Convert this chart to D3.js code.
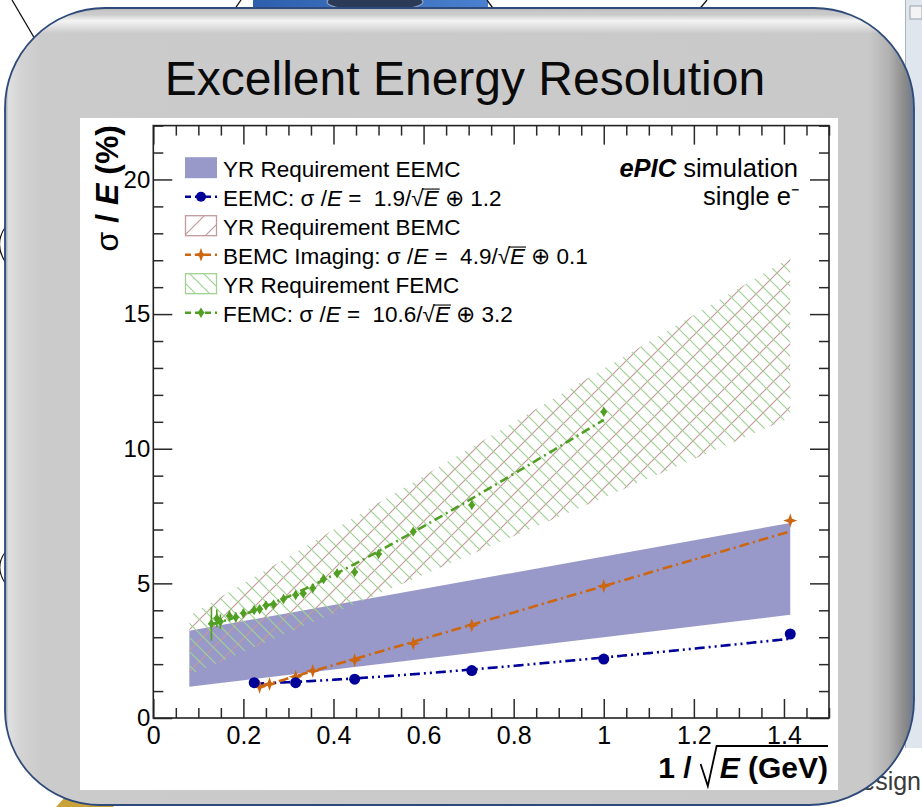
<!DOCTYPE html>
<html>
<head>
<meta charset="utf-8">
<script src="https://cdn.jsdelivr.net/npm/d3@7"></script>
<style>
  html, body { margin: 0; padding: 0; background: #fff; }
  svg { display: block; }
  text { font-family: "Liberation Sans", Arial, Helvetica, sans-serif; white-space: pre; }
</style>
</head>
<body>
<svg id="slide" width="922" height="807"></svg>
<script>
// ---------------- data ----------------
// EEMC (electron endcap) resolution points, x = 1/sqrt(E)
const eemcX = [0.224, 0.316, 0.447, 0.707, 1.000, 1.414];
const eemcY = [1.31, 1.31, 1.44, 1.76, 2.19, 3.12];
// BEMC imaging calorimeter
const bemcX = [0.236, 0.258, 0.316, 0.354, 0.447, 0.577, 0.707, 1.000, 1.414];
const bemcY = [1.16, 1.26, 1.53, 1.75, 2.15, 2.77, 3.44, 4.90, 7.33];
// FEMC (forward endcap)
const femcX = [0.129, 0.141, 0.149, 0.169, 0.183, 0.200, 0.224, 0.236, 0.250, 0.267, 0.289,
               0.316, 0.333, 0.354, 0.378, 0.408, 0.447, 0.500, 0.577, 0.707, 1.000];
const femcY = [3.50, 3.70, 3.58, 3.79, 3.74, 3.89, 4.01, 4.04, 4.18, 4.22, 4.42,
               4.57, 4.63, 4.82, 5.16, 5.37, 5.42, 6.09, 6.92, 7.91, 11.37];
const femcErr = [0.63, 0.33, 0.27, 0.20, 0.18, 0.15, 0.14, 0.14, 0.13, 0.13, 0.12,
                 0.12, 0.12, 0.12, 0.12, 0.12, 0.12, 0.12, 0.12, 0.12, 0.12];

// fit results quoted in the legend: sigma/E = a/sqrt(E) (+) b
const fitNames = ["EEMC", "BEMC", "FEMC"];
const fitStochastic = [1.9, 4.9, 10.6];
const fitConstant = [1.2, 0.1, 3.2];
const fitFrom = [0.224, 0.236, 0.129];
const fitTo = [1.414, 1.414, 1.000];

// Yellow Report requirement bands, edges at both ends of the 1/sqrt(E) range
const bandX = [0.08, 1.414];
const eemcReqLow = [1.16, 3.83];
const eemcReqHigh = [3.24, 7.24];
const bemcReqLow = [1.60, 11.15];
const bemcReqHigh = [3.80, 17.10];
const femcReqLow = [1.60, 11.15];
const femcReqHigh = [3.80, 17.10];

// axis ticks
const xTicks = [0, 0.2, 0.4, 0.6, 0.8, 1.0, 1.2, 1.4];
const xTickLabels = ["0", "0.2", "0.4", "0.6", "0.8", "1", "1.2", "1.4"];
const yTicks = [0, 5, 10, 15, 20];
const yTickLabels = ["0", "5", "10", "15", "20"];

// ---------------- styles ----------------
const C_EEMC = "#000099", C_BEMC = "#cc6611", C_FEMC = "#519f22";
const C_EEMC_BAND = "#9999c9", C_BEMC_HATCH = "#c29a9a", C_FEMC_HATCH = "#a0d292";
const FONT = '"Liberation Sans", Arial, Helvetica, sans-serif';

const svg = d3.select("#slide");
const defs = svg.append("defs");

// ---------------- slide background ----------------
svg.append("rect").attr("width", 922).attr("height", 807).attr("fill", "#fff");

// neighbouring window at the right edge
svg.append("rect").attr("x", 905).attr("y", 0).attr("width", 17).attr("height", 748).attr("fill", "#dfe6ee");
svg.append("line").attr("x1", 905.5).attr("x2", 905.5).attr("y1", 0).attr("y2", 748).attr("stroke", "#aab4c2");
svg.append("rect").attr("x", 910).attr("y", 6).attr("width", 12).attr("height", 13)
  .attr("fill", "#f3f3f3").attr("stroke", "#98a2ae");

// detector picture peeking out at the top
const picGrad = defs.append("linearGradient").attr("id", "picGrad").attr("x1", 0).attr("x2", 1);
picGrad.append("stop").attr("offset", 0).attr("stop-color", "#2d5fae");
picGrad.append("stop").attr("offset", 1).attr("stop-color", "#4a80cf");
svg.append("rect").attr("x", 253).attr("y", 0).attr("width", 235).attr("height", 14).attr("fill", "url(#picGrad)");
svg.append("ellipse").attr("cx", 375).attr("cy", 2).attr("rx", 48).attr("ry", 9)
  .attr("fill", "#2b3b57").attr("stroke", "#8fa3c2").attr("stroke-width", 1.2);

// connector lines of the diagram behind the panel
const lines = [[12, 0, 52, 68], [241, 0, 232, 13], [487, 0, 495, 11], [707, 0, 697, 12]];
svg.selectAll("line.conn").data(lines).join("line").attr("class", "conn")
  .attr("x1", d => d[0]).attr("y1", d => d[1]).attr("x2", d => d[2]).attr("y2", d => d[3])
  .attr("stroke", "#111").attr("stroke-width", 1.3);
svg.append("path").attr("d", "M6,226 Q-7,244 6,263").attr("fill", "none").attr("stroke", "#111").attr("stroke-width", 1.2);
svg.append("path").attr("d", "M6,551 Q-6,566 5,583").attr("fill", "none").attr("stroke", "#111").attr("stroke-width", 1.2);
svg.append("path").attr("d", "M56,807 L66,796 L104,796 L114,807 Z").attr("fill", "#c9a23a");
svg.append("text").attr("x", 921).attr("y", 790).attr("text-anchor", "end")
  .attr("font-size", 25).attr("fill", "#3a3a3a").text("Design");

// ---------------- rounded panel ----------------
function panelPath(x0, y0, x1, y1, rtl, rtr, rbr, rbl) {
  return `M${x0 + rtl},${y0} H${x1 - rtr} A${rtr},${rtr} 0 0 1 ${x1},${y0 + rtr} V${y1 - rbr} ` +
         `A${rbr},${rbr} 0 0 1 ${x1 - rbr},${y1} H${x0 + rbl} A${rbl},${rbl} 0 0 1 ${x0},${y1 - rbl} ` +
         `V${y0 + rtl} A${rtl},${rtl} 0 0 1 ${x0 + rtl},${y0} Z`;
}
const pPath = panelPath(5, 8, 914, 805, 100, 100, 105, 95);

const gH = defs.append("linearGradient").attr("id", "panelH").attr("gradientUnits", "userSpaceOnUse")
  .attr("x1", 5).attr("x2", 914).attr("y1", 0).attr("y2", 0);
[[0, "#8e98aa"], [0.004, "#e0e0e0"], [0.018, "#d3d3d3"], [0.04, "#cbcbcb"],
 [0.95, "#c9c9c9"], [0.972, "#b2b2b2"], [0.99, "#8a8a8a"], [1, "#6c7790"]]
  .forEach(s => gH.append("stop").attr("offset", s[0]).attr("stop-color", s[1]));
const gV = defs.append("linearGradient").attr("id", "panelV").attr("gradientUnits", "userSpaceOnUse")
  .attr("x1", 0).attr("x2", 0).attr("y1", 8).attr("y2", 805);
[[0, "#000", 0.12], [0.008, "#fff", 0], [0.016, "#fff", 0.8], [0.032, "#fff", 0], [1, "#fff", 0]]
  .forEach(s => gV.append("stop").attr("offset", s[0]).attr("stop-color", s[1]).attr("stop-opacity", s[2]));

svg.append("path").attr("d", pPath).attr("fill", "url(#panelH)");
svg.append("path").attr("d", pPath).attr("fill", "url(#panelV)");
svg.append("path").attr("d", pPath).attr("fill", "none").attr("stroke", "#2e4a7a").attr("stroke-width", 1.8);

svg.append("text").attr("x", 465).attr("y", 95).attr("text-anchor", "middle")
  .attr("font-size", 48).attr("fill", "#0a0a0a").text("Excellent Energy Resolution");

// ---------------- plot canvas ----------------
svg.append("rect").attr("x", 80).attr("y", 118).attr("width", 758).attr("height", 672).attr("fill", "#fff");

const x = d3.scaleLinear().domain([0, 1.5]).range([153.3, 829]);
const y = d3.scaleLinear().domain([0, 22]).range([718, 125.6]);
const plot = svg.append("g");

// hatch patterns (ROOT-style fill 3004 "/" and 3005 "\")
function hatch(id, color, s, dir) {
  const p = defs.append("pattern").attr("id", id).attr("patternUnits", "userSpaceOnUse")
    .attr("width", s).attr("height", s);
  const d = dir === "/"
    ? `M0,${s} L${s},0 M-2,2 L2,-2 M${s - 2},${s + 2} L${s + 2},${s - 2}`
    : `M0,0 L${s},${s} M-2,${s - 2} L2,${s + 2} M${s - 2},-2 L${s + 2},2`;
  p.append("path").attr("d", d).attr("stroke", color).attr("stroke-width", 1.15).attr("fill", "none");
}
hatch("hatchBEMC", C_BEMC_HATCH, 21, "/");
hatch("hatchFEMC", C_FEMC_HATCH, 14, "\\");

// requirement bands
const bandArea = d3.area().x(d => x(d.x)).y0(d => y(d.lo)).y1(d => y(d.hi));
function bandData(lo, hi) { return bandX.map((v, i) => ({ x: v, lo: lo[i], hi: hi[i] })); }
plot.append("path").attr("d", bandArea(bandData(eemcReqLow, eemcReqHigh))).attr("fill", C_EEMC_BAND);
plot.append("path").attr("d", bandArea(bandData(bemcReqLow, bemcReqHigh))).attr("fill", "url(#hatchBEMC)");
plot.append("path").attr("d", bandArea(bandData(femcReqLow, femcReqHigh))).attr("fill", "url(#hatchFEMC)");

// fit curves
const fitColors = [C_EEMC, C_BEMC, C_FEMC];
const fitDash = ["10,4,2,4,2,4", "10,4,2,4", "9,4,2,4"];
const line = d3.line().x(d => x(d[0])).y(d => y(d[1]));
fitNames.forEach((n, i) => {
  const xs = d3.range(fitFrom[i], fitTo[i], 0.004).concat([fitTo[i]]);
  const pts = xs.map(v => [v, Math.hypot(fitStochastic[i] * v, fitConstant[i])]);
  plot.append("path").attr("d", line(pts)).attr("fill", "none")
    .attr("stroke", fitColors[i]).attr("stroke-width", 2.6).attr("stroke-dasharray", fitDash[i]);
});

// marker shapes
function star4(r, ri) {
  const pts = [];
  for (let k = 0; k < 8; k++) {
    const a = k * Math.PI / 4 - Math.PI / 2, rr = k % 2 ? ri : r;
    pts.push([rr * Math.cos(a), rr * Math.sin(a)]);
  }
  return "M" + pts.map(p => p.map(v => v.toFixed(2)).join(",")).join("L") + "Z";
}
const femcMarker = "M0,-5.2 L2.2,-1.6 L3.8,0 L2.2,1.6 L0,5.2 L-2.2,1.6 L-3.8,0 L-2.2,-1.6 Z";
const bemcMarker = star4(7, 2.5);

// FEMC error bars and markers
plot.selectAll("line.ferr").data(femcX).join("line").attr("class", "ferr")
  .attr("x1", d => x(d)).attr("x2", d => x(d))
  .attr("y1", (d, i) => y(femcY[i] - femcErr[i])).attr("y2", (d, i) => y(femcY[i] + femcErr[i]))
  .attr("stroke", C_FEMC).attr("stroke-width", 1.6);
plot.selectAll("path.fm").data(femcX).join("path").attr("class", "fm")
  .attr("d", femcMarker).attr("transform", (d, i) => `translate(${x(d)},${y(femcY[i])})`).attr("fill", C_FEMC);
plot.selectAll("path.bm").data(bemcX).join("path").attr("class", "bm")
  .attr("d", bemcMarker).attr("transform", (d, i) => `translate(${x(d)},${y(bemcY[i])})`).attr("fill", C_BEMC);
plot.selectAll("circle.em").data(eemcX).join("circle").attr("class", "em")
  .attr("cx", d => x(d)).attr("cy", (d, i) => y(eemcY[i])).attr("r", 5.5).attr("fill", C_EEMC);

// ---------------- axes ----------------
const xMinor = d3.range(0, 1.5001, 0.05).filter(v => Math.abs(v / 0.2 - Math.round(v / 0.2)) > 1e-6);
const yMinor = d3.range(0, 22.001, 1).filter(v => v % 5 !== 0);
function styleAxis(g) {
  g.select(".domain").remove();
  g.selectAll(".tick line").attr("stroke", "#2a2a2a").attr("stroke-width", 1.5);
  g.selectAll(".tick text").attr("fill", "#000").style("font-family", FONT);
}
const axes = svg.append("g");
axes.append("g").attr("transform", "translate(0,718)")
  .call(d3.axisBottom(x).tickValues(xTicks).tickSize(-19).tickPadding(8)
    .tickFormat((d, i) => xTickLabels[i])).call(styleAxis)
  .selectAll(".tick text").attr("font-size", 25);
axes.append("g").attr("transform", "translate(0,718)")
  .call(d3.axisBottom(x).tickValues(xMinor).tickSize(-10).tickFormat("")).call(styleAxis);
axes.append("g").attr("transform", "translate(0,125.6)")
  .call(d3.axisTop(x).tickValues(xTicks).tickSize(-19).tickFormat("")).call(styleAxis);
axes.append("g").attr("transform", "translate(0,125.6)")
  .call(d3.axisTop(x).tickValues(xMinor).tickSize(-10).tickFormat("")).call(styleAxis);
axes.append("g").attr("transform", "translate(153.3,0)")
  .call(d3.axisLeft(y).tickValues(yTicks).tickSize(-19).tickPadding(3)
    .tickFormat((d, i) => yTickLabels[i])).call(styleAxis)
  .selectAll(".tick text").attr("font-size", 24);
axes.append("g").attr("transform", "translate(153.3,0)")
  .call(d3.axisLeft(y).tickValues(yMinor).tickSize(-10).tickFormat("")).call(styleAxis);
axes.append("g").attr("transform", "translate(829,0)")
  .call(d3.axisRight(y).tickValues(yTicks).tickSize(-19).tickFormat("")).call(styleAxis);
axes.append("g").attr("transform", "translate(829,0)")
  .call(d3.axisRight(y).tickValues(yMinor).tickSize(-10).tickFormat("")).call(styleAxis);
axes.append("rect").attr("x", 153.3).attr("y", 125.6).attr("width", 829 - 153.3).attr("height", 718 - 125.6)
  .attr("fill", "none").attr("stroke", "#222").attr("stroke-width", 1.6);

// ---------------- rich text helper (italic / bold parts, radical overline) ----------------
function richText(g, tx, ty, parts, size, anchor) {
  const t = g.append("text").attr("x", tx).attr("y", ty).attr("font-size", size)
    .attr("text-anchor", anchor || "start").attr("fill", "#000");
  let idx = 0; const over = [];
  parts.forEach(p => {
    const s = t.append("tspan").text(p.t);
    if (p.it) s.attr("font-style", "italic");
    if (p.b) s.attr("font-weight", "bold");
    if (p.w) s.attr("font-weight", p.w);
    if (p.over) over.push([idx, idx + p.t.length - 1]);
    idx += p.t.length;
  });
  const node = t.node();
  over.forEach(([a, b]) => {
    const r = node.getExtentOfChar(a - 1), e = node.getExtentOfChar(b);
    g.append("line").attr("x1", r.x + r.width - 1).attr("x2", e.x + e.width + 1)
      .attr("y1", ty - size * 0.74).attr("y2", ty - size * 0.74)
      .attr("stroke", "#000").attr("stroke-width", 1.1);
  });
  return t;
}

// ---------------- legend ----------------
const legendRows = [
  { kind: "fill" },
  { kind: "line", color: C_EEMC, marker: "circle" },
  { kind: "hatch", color: C_BEMC_HATCH, fill: "url(#hatchBEMC)" },
  { kind: "line", color: C_BEMC, marker: bemcMarker },
  { kind: "hatch", color: C_FEMC_HATCH, fill: "url(#hatchFEMC)" },
  { kind: "line", color: C_FEMC, marker: femcMarker }
];
function fitLabel(i, prefix) {
  return [{ t: prefix + ": σ /" }, { t: "E", it: true },
          { t: " =  " + fitStochastic[i].toFixed(1) + "/√" }, { t: "E", it: true, over: true },
          { t: " ⊕ " + fitConstant[i].toFixed(1) }];
}
const legendText = [
  [{ t: "YR Requirement EEMC" }],
  fitLabel(0, "EEMC"),
  [{ t: "YR Requirement BEMC" }],
  fitLabel(1, "BEMC Imaging"),
  [{ t: "YR Requirement FEMC" }],
  fitLabel(2, "FEMC")
];
const legend = svg.append("g");
legendRows.forEach((row, i) => {
  const base = 176.7 + i * 29;
  const cy = base - 9;
  if (row.kind === "fill") {
    legend.append("rect").attr("x", 185).attr("y", cy - 10.5).attr("width", 32).attr("height", 21).attr("fill", C_EEMC_BAND);
  } else if (row.kind === "hatch") {
    legend.append("rect").attr("x", 185.5).attr("y", cy - 10).attr("width", 31).attr("height", 20)
      .attr("fill", row.fill).attr("stroke", row.color).attr("stroke-width", 1.3);
  } else {
    legend.append("line").attr("x1", 185).attr("x2", 217).attr("y1", cy).attr("y2", cy)
      .attr("stroke", row.color).attr("stroke-width", 2.4).attr("stroke-dasharray", "6,4");
    if (row.marker === "circle") {
      legend.append("circle").attr("cx", 201).attr("cy", cy).attr("r", 5).attr("fill", row.color);
    } else {
      legend.append("path").attr("d", row.marker).attr("transform", `translate(201,${cy})`).attr("fill", row.color);
    }
  }
  richText(legend, 223, base, legendText[i], 22.5);
});

// ---------------- annotations ----------------
richText(svg, 798, 177, [{ t: "ePIC", b: true, it: true }, { t: " simulation" }], 25.5, "end");
richText(svg, 800, 205, [{ t: "single e" }, { t: "⁻", w: "normal" }], 25.5, "end");

// axis titles
const xt = richText(svg, 828, 778, [{ t: "1 /", b: true }, { t: "E", b: true, it: true }, { t: " (GeV)", b: true }], 30, "end");
xt.select("tspan:nth-child(2)").attr("dx", 28);
{
  const node = xt.node();
  const s = node.getExtentOfChar(2), e = node.getExtentOfChar(3);
  const rl = s.x + s.width + 9, rr = e.x - 3, base = 778;
  svg.append("path")
    .attr("d", `M${rl},${base - 14} L${rl + (rr - rl) * 0.45},${base + 8} L${rr},${base - 32} L828,${base - 32}`)
    .attr("fill", "none").attr("stroke", "#000").attr("stroke-width", 1.8);
}
const yt = svg.append("g").attr("transform", "translate(118,125) rotate(-90)");
richText(yt, 0, 0, [{ t: "σ", w: "normal" }, { t: " / ", b: true }, { t: "E", b: true, it: true }, { t: " (%)", b: true }], 32, "end");
</script>
</body>
</html>
